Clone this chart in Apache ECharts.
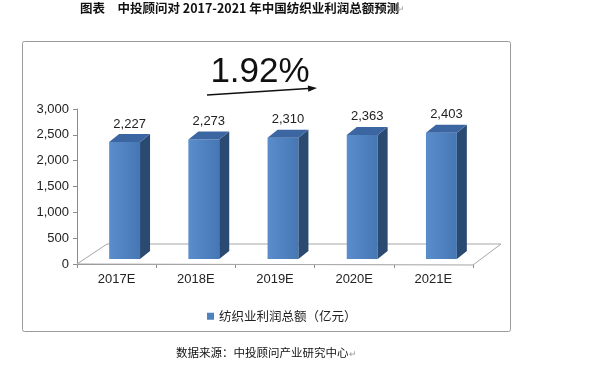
<!DOCTYPE html>
<html><head><meta charset="utf-8">
<script src="https://cdn.jsdelivr.net/npm/echarts@6/dist/echarts.min.js"></script>
<style>html,body{margin:0;padding:0;background:#fff}#c{width:589px;height:365px}</style>
</head><body><div id="c"></div>
<script>
const categories = ['2017E', '2018E', '2019E', '2020E', '2021E'];
const profit = [2227, 2273, 2310, 2363, 2403];
const seriesName = '纺织业利润总额（亿元）';
const yMin = 0, yMax = 3000, yStep = 500;
const growthText = '1.92%';
const titleText = '图表　中投顾问对 2017-2021 年中国纺织业利润总额预测';
const sourceText = '数据来源：中投顾问产业研究中心';

const CJK = '"Noto Sans CJK SC", sans-serif';
const LAT = '"Liberation Sans", Arial, sans-serif';
const chart = echarts.init(document.getElementById('c'));

function floorItem(params, api) {
  const cs = params.coordSys;
  const x0 = cs.x, y0 = cs.y + cs.height, x1 = cs.x + cs.width;
  return {
    type: 'polygon',
    shape: { points: [[x0, y0], [x0 + 30, y0 - 20], [x1 + 28, y0 - 20], [x1, y0 + 1]] },
    style: { fill: '#fff', stroke: '#a6a6a6', lineWidth: 1 }
  };
}

function barItem(params, api) {
  const i = api.value(0), v = api.value(1);
  const p = api.coord([i, v]);
  const p0 = api.coord([i, 0]);
  const w = api.size([1, 0])[0] * 0.39;
  const off = 8, dx = 10, dy = 8;
  const xl = p[0] + off - w / 2, xr = xl + w;
  const top = p[1] - 7, bot = p0[1] - 5;
  return {
    type: 'group',
    children: [
      { type: 'rect', shape: { x: xl, y: top, width: w, height: bot - top },
        style: { fill: new echarts.graphic.LinearGradient(0, 0, 1, 0, [
          { offset: 0, color: '#5a8dcc' }, { offset: 1, color: '#4677b5' }]) } },
      { type: 'polygon', shape: { points: [[xr, top], [xr + dx, top - dy], [xr + dx, bot - dy], [xr, bot]] },
        style: { fill: '#2a4a72' } },
      { type: 'polygon', shape: { points: [[xl, top], [xl + dx, top - dy], [xr + dx, top - dy], [xr, top]] },
        style: { fill: '#3c66a1' } },
      { type: 'text', style: { text: v.toLocaleString('en-US'), x: xl + w / 2 + dx / 2, y: top - dy - 10,
        align: 'center', verticalAlign: 'middle', font: '13px ' + LAT, fill: '#222' } }
    ]
  };
}

// arrow geometry
const ax0 = 207, ay0 = 95, ax1 = 317, ay1 = 88;
const L = Math.hypot(ax1 - ax0, ay1 - ay0);
const ux = (ax1 - ax0) / L, uy = (ay1 - ay0) / L;
const bx = ax1 - ux * 9, by = ay1 - uy * 9;

chart.setOption({
  animation: false,
  grid: { left: 77, right: 116, top: 109, bottom: 101 },
  legend: {
    data: [{ name: seriesName, icon: 'rect' }],
    left: 202, top: 305, itemWidth: 7, itemHeight: 7, itemGap: 5,
    textStyle: { fontFamily: CJK, fontSize: 12.5, color: '#222' }
  },
  xAxis: {
    type: 'category', data: categories,
    axisLine: { show: true, lineStyle: { color: '#8c8c8c' } },
    axisTick: { show: true, alignWithLabel: false, length: 4, lineStyle: { color: '#8c8c8c' } },
    axisLabel: { fontFamily: LAT, fontSize: 13, color: '#222', margin: 9 },
    splitLine: { show: false }
  },
  yAxis: {
    type: 'value', min: yMin, max: yMax, interval: yStep,
    axisLine: { show: true, lineStyle: { color: '#8c8c8c' } },
    axisTick: { show: true, inside: false, length: 4, lineStyle: { color: '#8c8c8c' } },
    axisLabel: { fontFamily: LAT, fontSize: 13, color: '#222', margin: 8,
      formatter: v => v.toLocaleString('en-US') },
    splitLine: { show: false }
  },
  series: [
    { type: 'custom', name: 'floor', silent: true, z: 1, renderItem: floorItem, data: [[0, 0]],
      encode: { x: 0, y: 1 } },
    { type: 'custom', name: seriesName, z: 3, renderItem: barItem, itemStyle: { color: '#4F81BD' },
      data: profit.map((v, i) => [i, v]), encode: { x: 0, y: 1 } }
  ],
  graphic: [
    { type: 'rect', shape: { x: 22.5, y: 41.5, width: 488, height: 290, r: 2 },
      style: { fill: 'none', stroke: '#9a9a9a', lineWidth: 1 }, z: 0 },
    { type: 'text', style: { text: titleText, x: 80, y: 8, verticalAlign: 'middle',
      font: 'bold 12.5px ' + CJK, fill: '#111' } },
    { type: 'text', style: { text: '↵', x: 397, y: 9, verticalAlign: 'middle', font: '9px ' + CJK, fill: '#999' } },
    { type: 'text', style: { text: growthText, x: 260, y: 72, align: 'center', verticalAlign: 'middle',
      font: '35px ' + LAT, fill: '#111' } },
    { type: 'line', shape: { x1: ax0, y1: ay0, x2: bx, y2: by }, style: { stroke: '#111', lineWidth: 1.6 } },
    { type: 'polygon', shape: { points: [[ax1, ay1], [bx - uy * 3.2, by + ux * 3.2], [bx + uy * 3.2, by - ux * 3.2]] },
      style: { fill: '#111' } },
    { type: 'text', style: { text: sourceText, x: 176, y: 353, verticalAlign: 'middle',
      font: '11.5px ' + CJK, fill: '#111' } },
    { type: 'text', style: { text: '↵', x: 349, y: 354, verticalAlign: 'middle', font: '9px ' + CJK, fill: '#999' } }
  ]
});
</script></body></html>
